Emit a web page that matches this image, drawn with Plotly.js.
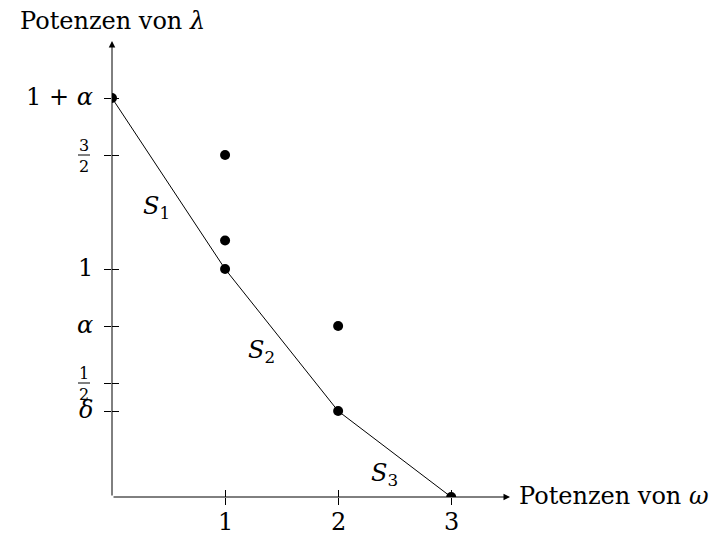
<!DOCTYPE html>
<html>
<head>
<meta charset="utf-8">
<script src="https://cdn.plot.ly/plotly-3.0.1.min.js"></script>
<style>html,body{margin:0;padding:0;background:#fff;}#chart{width:721px;height:536px;}</style>
</head>
<body>
<div id="chart"></div>
<script>
// ---- data ----
const alpha = 0.75;
const delta = 0.377;
const pointsX = [0, 1, 1, 1, 2, 2, 3];
const pointsY = [1 + alpha, 1.5, 1.125, 1, alpha, delta, 0];
const polygonX = [0, 1, 2, 3];
const polygonY = [1 + alpha, 1, delta, 0];
const xTickVals = [1, 2, 3];
const xTickText = ["1", "2", "3"];
const yTickVals = [1 + alpha, 1, alpha, delta];
const yTickText = ["1 + <i>α</i>", "1", "<i>α</i>", "<i>δ</i>"];
const yFracVals = [1.5, 0.5];
const yFracNum = ["3", "1"];
const yFracDen = ["2", "2"];
const segLabels = ["<i>S</i><sub>1</sub>", "<i>S</i><sub>2</sub>", "<i>S</i><sub>3</sub>"];
const segLabelX = [0.39, 1.32, 2.41];
const segLabelY = [1.27, 0.64, 0.10];
const xTitle = "Potenzen von <i>ω</i>";
const yTitle = "Potenzen von <i>λ</i>";
const xMax = 3.52, yMax = 2.0;

const FONT = "DejaVu Serif, serif";
const fs = 24;

const traces = [
  {x: polygonX, y: polygonY, mode: "lines", line: {color: "#000", width: 1}, hoverinfo: "skip"},
  {x: pointsX, y: pointsY, mode: "markers", marker: {color: "#000", size: 10}, hoverinfo: "skip"},
  {x: [0], y: [0], xaxis: "x2", yaxis: "y2", mode: "markers", marker: {opacity: 0}, hoverinfo: "skip"}
];

const allY = yTickVals.concat(yFracVals);
const shapes = [];
const annotations = [];

// axes with arrows
annotations.push({x: xMax, y: 0, ax: 0, ay: 0, axref: "x", ayref: "y", xref: "x", yref: "y",
  text: "", showarrow: true, arrowhead: 2, arrowsize: 1.3, arrowwidth: 1, arrowcolor: "#000"});
annotations.push({x: 0, y: yMax, ax: 0, ay: 0, axref: "x", ayref: "y", xref: "x", yref: "y",
  text: "", showarrow: true, arrowhead: 2, arrowsize: 1.3, arrowwidth: 1, arrowcolor: "#000"});

// x tick labels
xTickVals.forEach((v, i) => {
  annotations.push({x: v, y: 0, xref: "x", yref: "y", text: xTickText[i], showarrow: false, borderpad: 0,
    xanchor: "center", yanchor: "middle", yshift: -25, font: {family: FONT, size: fs, color: "#000"}});
});
// y tick labels
yTickVals.forEach((v, i) => {
  annotations.push({x: 0, y: v, xref: "x", yref: "y", text: yTickText[i], showarrow: false, borderpad: 0,
    xanchor: "right", yanchor: "middle", xshift: -18, yshift: 1, font: {family: FONT, size: fs, color: "#000"}});
});
// fractions
const plotW = 721 - 112 - 211;
yFracVals.forEach((v, i) => {
  shapes.push({type: "line", xref: "paper", yref: "y", y0: v, y1: v, x0: -34 / plotW, x1: -22 / plotW,
    line: {color: "#000", width: 1}});
  annotations.push({x: 0, y: v, xref: "x", yref: "y", text: yFracNum[i], showarrow: false, borderpad: 0,
    xanchor: "center", yanchor: "middle", xshift: -28, yshift: 10, font: {family: FONT, size: 16, color: "#000"}});
  annotations.push({x: 0, y: v, xref: "x", yref: "y", text: yFracDen[i], showarrow: false, borderpad: 0,
    xanchor: "center", yanchor: "middle", xshift: -28, yshift: -11, font: {family: FONT, size: 16, color: "#000"}});
});
// segment labels
segLabels.forEach((t, i) => {
  annotations.push({x: segLabelX[i], y: segLabelY[i], xref: "x", yref: "y", text: t, showarrow: false,
    xanchor: "center", yanchor: "middle", font: {family: FONT, size: fs, color: "#000"}});
});
// axis titles
annotations.push({x: xMax, y: 0, xref: "x", yref: "y", text: xTitle, showarrow: false, borderpad: 0,
  xanchor: "left", yanchor: "middle", xshift: 8, yshift: 1, font: {family: FONT, size: fs, color: "#000"}});
annotations.push({x: 0, y: yMax, xref: "x", yref: "y", text: yTitle, showarrow: false, borderpad: 0,
  xanchor: "center", yanchor: "middle", yshift: 20, font: {family: FONT, size: fs, color: "#000"}});

const tickCommon = {showgrid: false, zeroline: false, showline: false, showticklabels: false,
  tickmode: "array", ticklen: 7, tickwidth: 1, tickcolor: "#000"};

const layout = {
  width: 721, height: 536,
  margin: {l: 112, r: 211, t: 41, b: 39, pad: 0},
  paper_bgcolor: "#fff", plot_bgcolor: "#fff",
  showlegend: false,
  xaxis: Object.assign({range: [0, xMax], tickvals: xTickVals, ticks: "outside"}, tickCommon),
  yaxis: Object.assign({range: [0, yMax], tickvals: allY, ticks: "outside"}, tickCommon),
  xaxis2: Object.assign({range: [0, xMax], tickvals: xTickVals, ticks: "inside", overlaying: "x", anchor: "y2", side: "bottom"}, tickCommon),
  yaxis2: Object.assign({range: [0, yMax], tickvals: allY, ticks: "inside", overlaying: "y", anchor: "x2", side: "left"}, tickCommon),
  shapes: shapes,
  annotations: annotations
};

Plotly.newPlot("chart", traces, layout, {staticPlot: true, displayModeBar: false});
</script>
</body>
</html>
